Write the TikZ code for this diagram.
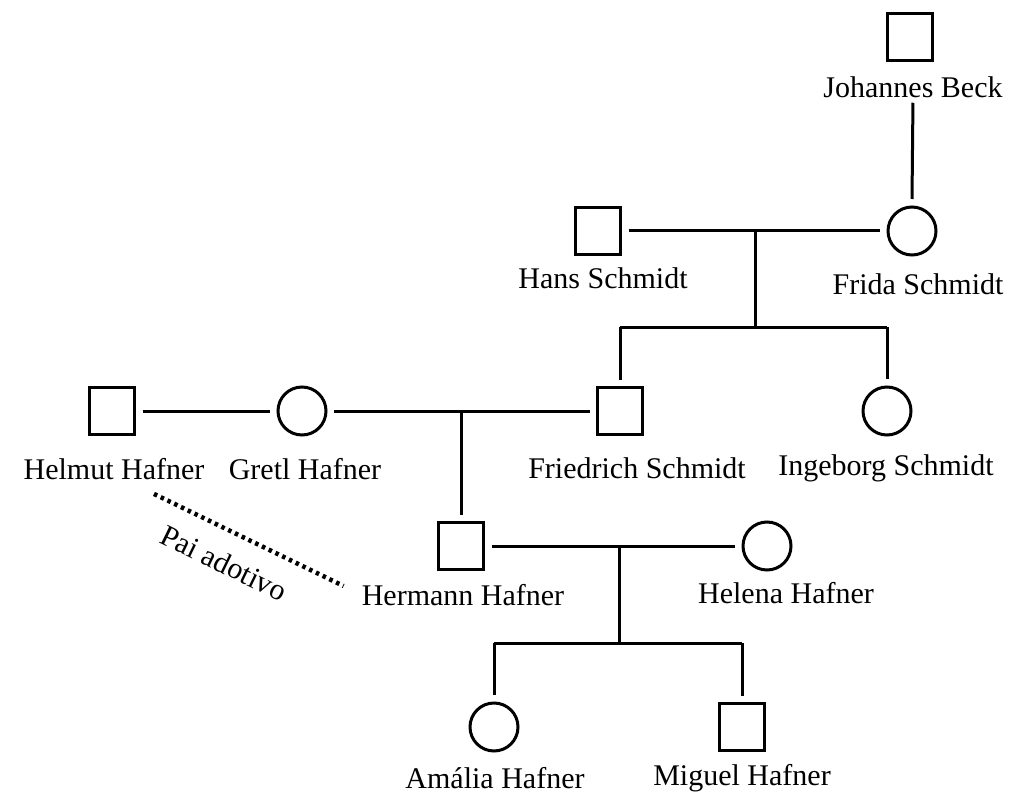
\documentclass[tikz,border=0pt]{standalone}
\usepackage{fontspec}
\setmainfont{Liberation Serif}
\usetikzlibrary{calc}
\begin{document}
\begin{tikzpicture}[x=1pt,y=-1pt,
  male/.style={draw,line width=3pt,rectangle,minimum width=45pt,minimum height=47pt,inner sep=0pt,outer sep=8pt},
  female/.style={draw,line width=3pt,circle,minimum size=48pt,inner sep=0pt,outer sep=8pt},
  lbl/.style={inner sep=0pt,font=\fontsize{30}{34}\selectfont},
  link/.style={line width=3pt},
  adopt/.style={line width=4.5pt,dash pattern=on 3.5pt off 4pt}]
\useasboundingbox (0,0) rectangle (1016,799);
% people
\node[male] (JB) at (910,37) {};
\node[lbl] (JBl) at (913,87) {Johannes Beck};
\node[female] (FS) at (912,231) {};
\node[lbl] (FSl) at (918,284) {Frida Schmidt};
\node[male] (HS) at (598,231) {};
\node[lbl] (HSl) at (603,278) {Hans Schmidt};
\node[male] (FrS) at (620,411) {};
\node[lbl] (FrSl) at (637,468) {Friedrich Schmidt};
\node[female] (IS) at (887,411) {};
\node[lbl] (ISl) at (886,468) {Ingeborg Schmidt};
\node[male] (HH) at (112,411) {};
\node[lbl] (HHl) at (114,469) {Helmut Hafner};
\node[female] (GH) at (302,411) {};
\node[lbl] (GHl) at (305,469) {Gretl Hafner};
\node[male] (HeH) at (461,546) {};
\node[lbl] (HeHl) at (463,595) {Hermann Hafner};
\node[female] (HlH) at (767,546) {};
\node[lbl] (HlHl) at (786,593) {Helena Hafner};
\node[female] (AH) at (494,727) {};
\node[lbl] (AHl) at (495,778) {Amália Hafner};
\node[male] (MH) at (742,727) {};
\node[lbl] (MHl) at (742,778) {Miguel Hafner};
% Beck -> Frida
\draw[link,shorten <=5pt] (JBl.south) -- (FS.north);
% Hans + Frida
\draw[link] (HS.east) -- (FS.west);
\coordinate (m1) at ($(HS)!0.5!(FS)$);
\draw[link] (m1) -- ++(0,96) coordinate (s1);
\draw[link] (s1 -| FrS) -- (s1 -| IS);
\draw[link] (s1 -| FrS) -- (FrS.north);
\draw[link] (s1 -| IS) -- (IS.north);
% Helmut + Gretl
\draw[link] (HH.east) -- (GH.west);
% Gretl + Friedrich
\draw[link] (GH.east) -- (FrS.west);
\coordinate (m2) at ($(GH)!0.5!(FrS)$);
\draw[link] (m2) -- (HeH.north);
% Hermann + Helena
\draw[link] (HeH.east) -- (HlH.west);
\coordinate (m3) at ($(HeH)!0.517!(HlH)$);
\draw[link] (m3) -- ++(0,97) coordinate (s3);
\draw[link] (s3 -| AH) -- (s3 -| MH);
\draw[link] (s3 -| AH) -- (AH.north);
\draw[link] (s3 -| MH) -- (MH.north);
% adoptive father
\draw[adopt] ($(HHl.south)+(40,14)$) -- ($(HeHl.west)+(-18,-9)$);
\node[lbl,rotate=-26] (pa) at (224,563) {Pai adotivo};
\end{tikzpicture}
\end{document}
